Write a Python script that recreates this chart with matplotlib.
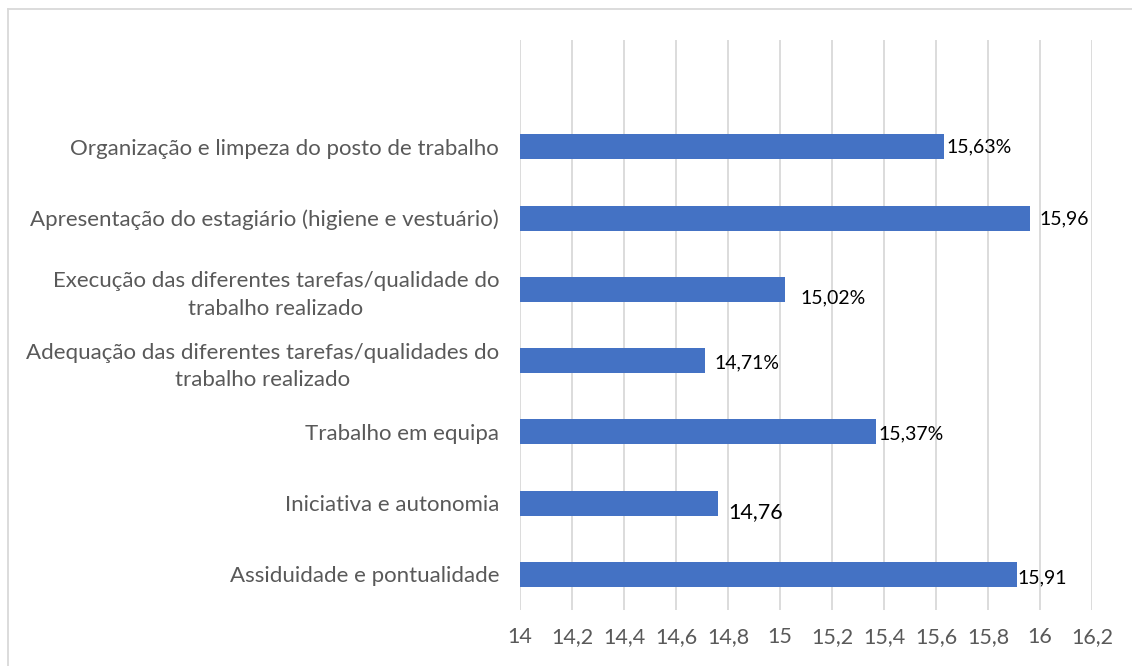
import matplotlib
matplotlib.use("Agg")
import matplotlib.pyplot as plt
from matplotlib.lines import Line2D

##############################################
# Data
##############################################
categories = [
    "Assiduidade e pontualidade",
    "Iniciativa e autonomia",
    "Trabalho em equipa",
    "Adequação das diferentes tarefas/qualidades do\ntrabalho realizado",
    "Execução das diferentes tarefas/qualidade do\ntrabalho realizado",
    "Apresentação do estagiário (higiene e vestuário)",
    "Organização e limpeza do posto de trabalho",
]
values = [15.91, 14.76, 15.37, 14.71, 15.02, 15.96, 15.63]
suffixes = ["", "", "%", "%", "%", "", "%"]

x_ticks = [14, 14.2, 14.4, 14.6, 14.8, 15, 15.2, 15.4, 15.6, 15.8, 16, 16.2]
x_tick_labels = ["14", "14,2", "14,4", "14,6", "14,8", "15", "15,2",
                 "15,4", "15,6", "15,8", "16", "16,2"]

# label placement per bar (pixels from bar end, font size)
label_dx = [1, 11, 2, 10, 15, 10, 3]
label_dy = [-3, -9, -2, -2, -8, -1, 0]
label_size = [14, 15.5, 14, 14, 14, 14, 14]

##############################################
# Plot
##############################################
plt.rcParams["font.family"] = ["Lato", "DejaVu Sans"]

fig = plt.figure(figsize=(11.32, 6.66), dpi=100)
ax = fig.add_axes([520 / 1132, 1 - 610 / 666, 572 / 1132, 570 / 666])

ypos = list(range(len(categories)))
ax.barh(ypos, [v - 14 for v in values], left=14, height=0.35,
        color="#4472C4", zorder=3)

for i, v in enumerate(values):
    txt = ("%.2f" % v).replace(".", ",") + suffixes[i]
    ax.annotate(txt, xy=(v, i), xytext=(label_dx[i], label_dy[i]),
                textcoords="offset pixels", ha="left", va="center",
                fontsize=label_size[i], color="#000000")

ax.set_xlim(14, 16.2)
ax.set_ylim(-0.5, 7.5)
ax.set_xticks(x_ticks)
ax.set_xticklabels(x_tick_labels, fontsize=15.5, color="#595959")
ax.set_yticks(ypos)
ax.set_yticklabels(categories, fontsize=16, color="#595959",
                   multialignment="center", linespacing=1.45)
ax.tick_params(axis="x", length=0, pad=12)
ax.tick_params(axis="y", length=0, pad=15)

ax.grid(axis="x", color="#D9D9D9", linewidth=1.3, zorder=0)
ax.grid(axis="y", visible=False)
for s in ax.spines.values():
    s.set_visible(False)

# outer chart border (top and left only visible)
fig.add_artist(Line2D([8 / 1132, 1], [1 - 9 / 666, 1 - 9 / 666],
                      transform=fig.transFigure, color="#D9D9D9", linewidth=1.3))
fig.add_artist(Line2D([8 / 1132, 8 / 1132], [0, 1 - 9 / 666],
                      transform=fig.transFigure, color="#D9D9D9", linewidth=1.3))

fig.savefig("out.png", dpi=100)
